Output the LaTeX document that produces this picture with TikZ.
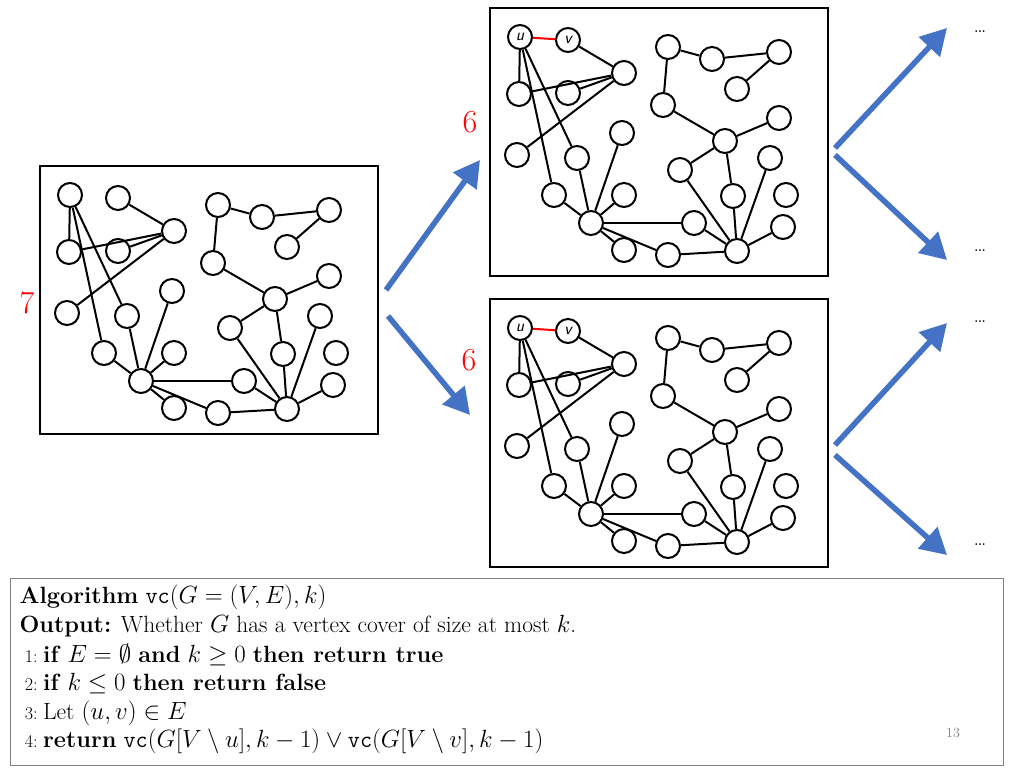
\documentclass[tikz,border=0pt]{standalone}
\usetikzlibrary{arrows.meta}
\definecolor{arrblue}{RGB}{68,114,196}
\newcommand{\mygraph}[5]{%
\begin{scope}[shift={(#1,#2)},name prefix=#3-]
\node[vx] (A) at (30,29) {#4};
\node[vx] (B) at (78,32) {#5};
\foreach \n/\x/\y in {C/134/65,D/29/86,E/78/85,F/27/147,G/87/150,H/132/125,I/64/187,J/101/215,K/134/187,L/134/242,M/178/247,N/204/215,O/247/243,P/190/162,Q/235/133,R/243/188,S/280/150,T/296/187,U/293/219,V/289/110,W/173/97,X/178/39,Y/222/51,Z/289/44,AA/247/81}
  \node[vx] (\n) at (\x,\y) {};
\foreach \a/\b in {B/C,A/D,A/I,A/G,D/C,E/C,F/C,G/J,H/J,I/J,K/J,L/J,J/N,J/M,M/O,N/O,P/O,P/Q,Q/R,R/O,S/O,U/O,Q/V,W/Q,W/X,X/Y,Y/Z,Z/AA}
  \draw[ed] (\a) -- (\b);
\end{scope}}
\begin{document}
\begin{tikzpicture}[x=1pt,y=-1pt,
  vx/.style={circle,draw,line width=2pt,fill=white,minimum size=24pt,inner sep=0pt,font=\sffamily\itshape\fontsize{17}{17}\selectfont},
  ed/.style={line width=2pt},
  box/.style={draw,line width=2pt},
  arr/.style={arrblue,line width=5.5pt,-{Triangle[length=26pt,width=28pt]}},
  num/.style={red,font=\fontsize{32}{32}\selectfont},
  dots/.style={font=\fontsize{22}{22}\selectfont},
  alg/.style={anchor=west,font=\fontsize{23.5}{26}\selectfont}]
\useasboundingbox (0,0) rectangle (1024,768);
\fill[white] (0,0) rectangle (1024,768);
\draw[box] (40,166) rectangle (378,434);
\draw[box] (490,8) rectangle (828,276);
\draw[box] (490,299) rectangle (828,567);
\mygraph{40}{166}{g1}{}{}
\mygraph{490}{8}{g2}{u}{v}
\mygraph{490}{299}{g3}{u}{v}
\draw[ed,red] (g2-A) -- (g2-B);
\draw[ed,red] (g3-A) -- (g3-B);
% numbers
\node[num] (n7) at (27,303) {7};
\node[num] (n6a) at (470,122) {6};
\node[num] (n6b) at (469,360) {6};
% arrows
\coordinate (s1) at (386,290); \coordinate (t1) at (480,160);
\coordinate (s2) at (388,316); \coordinate (t2) at (470,415);
\draw[arr] (s1) -- (t1);
\draw[arr] (s2) -- (t2);
\coordinate (r1) at (835,148); \coordinate (e1) at (947,28);
\coordinate (r2) at (835,155); \coordinate (e2) at (947,260);
\coordinate (r3) at (835,445); \coordinate (e3) at (947,323);
\coordinate (r4) at (835,455); \coordinate (e4) at (947,555);
\foreach \a/\b in {r1/e1,r2/e2,r3/e3,r4/e4} \draw[arr] (\a) -- (\b);
\node[dots] (d1) at (980,32) {\dots};
\node[dots] (d2) at (980,251) {\dots};
\node[dots] (d3) at (980,322) {\dots};
\node[dots] (d4) at (980,545) {\dots};
% algorithm
\newcommand\lnum[1]{{\fontsize{18}{20}\selectfont\ #1:\ }}
\draw[gray,line width=1pt] (10,578) rectangle (1003,765);
\node[alg] (l0) at (16,597) {\textbf{Algorithm} \texttt{vc}$(G=(V,E),k)$};
\node[alg] (l1) at (16,626) {\textbf{Output:} Whether $G$ has a vertex cover of size at most $k$.};
\node[alg] (l2) at (16,655) {\lnum{1}\textbf{if} $E=\emptyset$ \textbf{and} $k\ge 0$ \textbf{then return true}};
\node[alg] (l3) at (16,684) {\lnum{2}\textbf{if} $k\le 0$ \textbf{then return false}};
\node[alg] (l4) at (16,713) {\lnum{3}Let $(u,v)\in E$};
\node[alg] (l5) at (16,741) {\lnum{4}\textbf{return} \texttt{vc}$(G[V\setminus u],k-1)\vee{}$\texttt{vc}$(G[V\setminus v],k-1)$};
\node[gray,font=\fontsize{14}{14}\selectfont] (pg) at (953,733) {13};
\end{tikzpicture}
\end{document}
